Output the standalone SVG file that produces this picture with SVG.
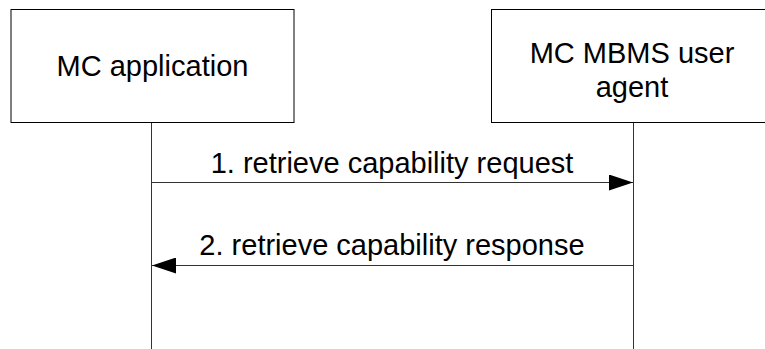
<svg xmlns="http://www.w3.org/2000/svg" width="765" height="349" viewBox="0 0 765 349">
<style>
.box{fill:#fff;stroke:#000;stroke-width:1}
.life{stroke:#333;stroke-width:1;fill:none}
.msg{stroke:#333;stroke-width:1;fill:none}
.t{font-family:"Liberation Sans",Arial,sans-serif;font-size:29px;fill:#000;text-anchor:middle}
</style>
<defs>
<marker id="ah" markerWidth="24" markerHeight="16" refX="24" refY="8" orient="auto" markerUnits="userSpaceOnUse">
<path d="M0,0 L24,8 L0,16 Z" fill="#000"/>
</marker>
</defs>
<rect width="765" height="349" fill="#fff"/>
<g id="node-mc-application">
<rect class="box" x="11" y="9.5" width="283" height="113"/>
<text class="t" x="152.5" y="76">MC application</text>
</g>
<g id="node-mc-mbms-user-agent">
<rect class="box" x="491.5" y="9.5" width="290" height="113"/>
<text class="t" x="632" y="63">MC MBMS user</text>
<text class="t" x="632" y="97">agent</text>
</g>
<g id="connectors">
<line class="life" x1="151.5" y1="123" x2="151.5" y2="349"/>
<line class="life" x1="633.5" y1="123" x2="633.5" y2="349"/>
<line class="msg" x1="151.5" y1="182.5" x2="633" y2="182.5" marker-end="url(#ah)"/>
<text class="t" x="392" y="173">1. retrieve capability request</text>
<line class="msg" x1="633.5" y1="265.5" x2="152" y2="265.5" marker-end="url(#ah)"/>
<text class="t" x="392" y="255">2. retrieve capability response</text>
</g>
</svg>
